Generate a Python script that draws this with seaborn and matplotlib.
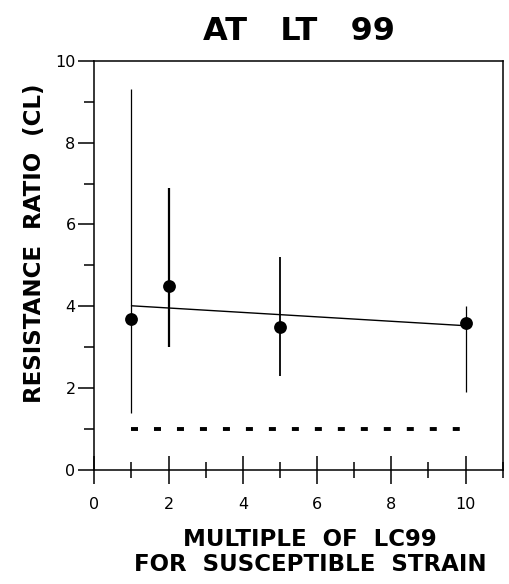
import numpy as np
import pandas as pd
import matplotlib
matplotlib.use("Agg")
import matplotlib.pyplot as plt
from matplotlib.ticker import MultipleLocator
import seaborn as sns

# Resistance ratio at LT99 for each dose multiple, with confidence limits
multiple = [1, 2, 5, 10]
ratio = [3.7, 4.5, 3.5, 3.6]
cl_low = [1.4, 3.0, 2.3, 1.9]
cl_high = [9.3, 6.9, 5.2, 4.0]

# Reference level (ratio of 1) spanning the tested multiples
ref_x = [1, 10]
ref_y = [1, 1]

x_ticks = [0, 2, 4, 6, 8, 10]
y_ticks = [0, 2, 4, 6, 8, 10]

df = pd.DataFrame({"multiple": multiple, "ratio": ratio,
                   "low": cl_low, "high": cl_high})

sns.set_theme(style="white")
plt.rcParams["font.family"] = ["DejaVu Sans"]
plt.rcParams.update({"text.color": "black", "axes.labelcolor": "black",
                     "xtick.color": "black", "ytick.color": "black"})

fig = plt.figure(figsize=(5.10, 5.84), dpi=100)
ax = fig.add_axes([0.185, 0.195, 0.8007, 0.701])

# confidence-limit bars
lws = [0.9, 1.6, 1.3, 0.9]
for xv, lo, hi, lw in zip(df["multiple"], df["low"], df["high"], lws):
    ax.plot([xv, xv], [lo, hi], color="black", lw=lw, solid_capstyle="butt")

# fitted trend over the data range
sns.regplot(data=df, x="multiple", y="ratio", ci=None, scatter=False,
            truncate=True, color="black", line_kws={"lw": 1.0}, ax=ax)

# point estimates
sns.scatterplot(data=df, x="multiple", y="ratio", color="black", s=85,
                edgecolor="black", linewidth=0, zorder=5, ax=ax)

# reference ratio line
ax.plot(ref_x, ref_y, color="black", lw=2.8, dashes=(1.8, 4.11),
        dash_capstyle="butt")

ax.set_xlim(0, 11)
ax.set_ylim(0, 10)
ax.set_xticks(x_ticks)
ax.set_yticks(y_ticks)
ax.xaxis.set_minor_locator(MultipleLocator(1))
ax.yaxis.set_minor_locator(MultipleLocator(1))

ax.tick_params(axis="x", which="major", direction="inout", length=20,
               width=1.1, labelsize=11.5, pad=9, bottom=True)
ax.tick_params(axis="x", which="minor", direction="inout", length=11,
               width=1.1, bottom=True)
ax.tick_params(axis="y", which="major", direction="out", length=11.5,
               width=1.1, labelsize=11.5, pad=2, left=True)
ax.tick_params(axis="y", which="minor", direction="out", length=7,
               width=1.1, left=True)

for side in ["left", "right", "top", "bottom"]:
    ax.spines[side].set_visible(True)
    ax.spines[side].set_color("black")
    ax.spines[side].set_linewidth(1.1)

ax.set_xlabel("MULTIPLE  OF  LC99\nFOR  SUSCEPTIBLE  STRAIN",
              fontsize=16.5, fontweight="bold", linespacing=1.12)
ax.xaxis.set_label_coords(0.528, -0.142)
ax.set_ylabel("RESISTANCE  RATIO  (CL)", fontsize=16.5, fontweight="bold")
ax.yaxis.set_label_coords(-0.118, 0.555)
ax.set_title("AT   LT   99", fontsize=23, fontweight="bold", pad=15)

fig.savefig("out.png", dpi=100)
